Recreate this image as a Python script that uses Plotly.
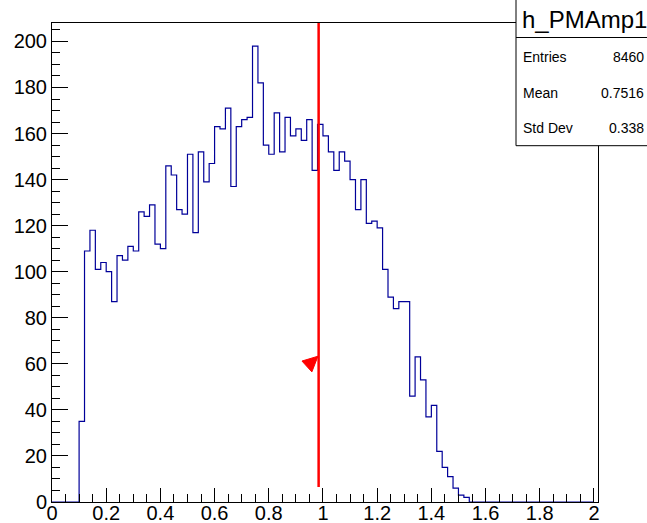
import plotly.graph_objects as go

# ---------------- data ----------------
bin_low = 0.0
bin_width = 0.02
n_bins = 100
first_filled_bin = 5
counts_filled = [35, 109, 118, 101, 104, 100,
                 87, 107, 105, 111, 109, 126, 124, 129, 112, 110,
                 146, 142, 127, 125, 151, 117, 152, 139, 147, 163,
                 162, 171, 137, 163, 166, 167, 198, 182, 155, 151,
                 169, 152, 167, 159, 162, 157, 166, 144, 164, 159,
                 152, 144, 152, 148, 140, 127, 140, 121, 122, 119,
                 101, 89, 84, 87, 87, 46, 63, 53, 37, 42,
                 22, 15, 11, 6, 3, 2]

hist_name = "h_PMAmp1"
stat_labels = ["Entries", "Mean", "Std Dev"]
stat_values = ["8460", "0.7516", "0.338"]

cut_x = [0.984, 0.984]
cut_y = [6.5, 211]
arrow_x = [0.9225, 0.9815, 0.959]
arrow_y = [61.2, 63.3, 56.5]

# ---------------- build ----------------
counts = [0] * n_bins
for i, c in enumerate(counts_filled):
    counts[first_filled_bin + i] = c
edges = [bin_low + bin_width * i for i in range(n_bins + 1)]
step_y = counts + [counts[-1]]

W, H = 647, 523
L, R, T, B = 52, 49, 23, 21
pw, ph = W - L - R, H - T - B


def px(xp):
    return (xp - L) / pw


def py(yp):
    return (H - B - yp) / ph


fig = go.Figure()
fig.add_trace(go.Scatter(x=edges, y=step_y, mode="lines", line_shape="hv",
                         line=dict(color="#000099", width=1.2),
                         hoverinfo="skip", showlegend=False))
fig.add_trace(go.Scatter(x=cut_x, y=cut_y, mode="lines",
                         line=dict(color="#ff0000", width=2.5),
                         cliponaxis=False, showlegend=False))
fig.add_trace(go.Scatter(x=arrow_x + [arrow_x[0]], y=arrow_y + [arrow_y[0]],
                         mode="lines", fill="toself", fillcolor="#ff0000",
                         line=dict(color="#ff0000", width=1),
                         showlegend=False))

font = "Liberation Sans, Arial, sans-serif"
fig.update_layout(
    width=W, height=H, autosize=False,
    margin=dict(l=L, r=R, t=T, b=B, pad=0),
    paper_bgcolor="white", plot_bgcolor="white",
    font=dict(family=font, color="black"),
    xaxis=dict(range=[0, 2.015], tick0=0, dtick=0.2, ticks="inside", ticklen=14,
               tickcolor="black", tickwidth=1, automargin=False,
               ticklabelstandoff=-7,
               minor=dict(dtick=0.05, ticks="inside", ticklen=8, tickcolor="black"),
               showline=True, linecolor="black", linewidth=1, mirror=True,
               showgrid=False, zeroline=False,
               tickfont=dict(size=20, family=font, color="black")),
    yaxis=dict(range=[0, 208], tick0=0, dtick=20, ticks="inside", ticklen=16,
               tickcolor="black", tickwidth=1, automargin=False,
               minor=dict(dtick=5, ticks="inside", ticklen=8, tickcolor="black"),
               showline=True, linecolor="black", linewidth=1, mirror=True,
               showgrid=False, zeroline=False,
               tickfont=dict(size=20, family=font, color="black")),
)

# stats box
box_x0, box_x1 = px(516), px(652)
box_y0, box_y1 = py(145.7), py(-2)
fig.add_shape(type="rect", xref="paper", yref="paper", x0=box_x0, x1=box_x1,
              y0=box_y0, y1=box_y1, fillcolor="white",
              line=dict(color="black", width=1), layer="above")
fig.add_shape(type="line", xref="paper", yref="paper", x0=box_x0, x1=box_x1,
              y0=py(37.5), y1=py(37.5), line=dict(color="black", width=1),
              layer="above")
fig.add_annotation(x=px(520), y=py(19), xref="paper", yref="paper",
                   text=hist_name, showarrow=False, xanchor="left", yanchor="middle",
                   font=dict(size=24, family=font, color="black"))
rows_y = [56.7, 92.7, 128.3]
for lab, val, yy in zip(stat_labels, stat_values, rows_y):
    fig.add_annotation(x=px(521), y=py(yy), xref="paper", yref="paper", text=lab,
                       showarrow=False, xanchor="left", yanchor="middle",
                       font=dict(size=14, family=font, color="black"))
    fig.add_annotation(x=px(646), y=py(yy), xref="paper", yref="paper", text=val,
                       showarrow=False, xanchor="right", yanchor="middle",
                       font=dict(size=14, family=font, color="black"))

fig.write_html("out.html")
